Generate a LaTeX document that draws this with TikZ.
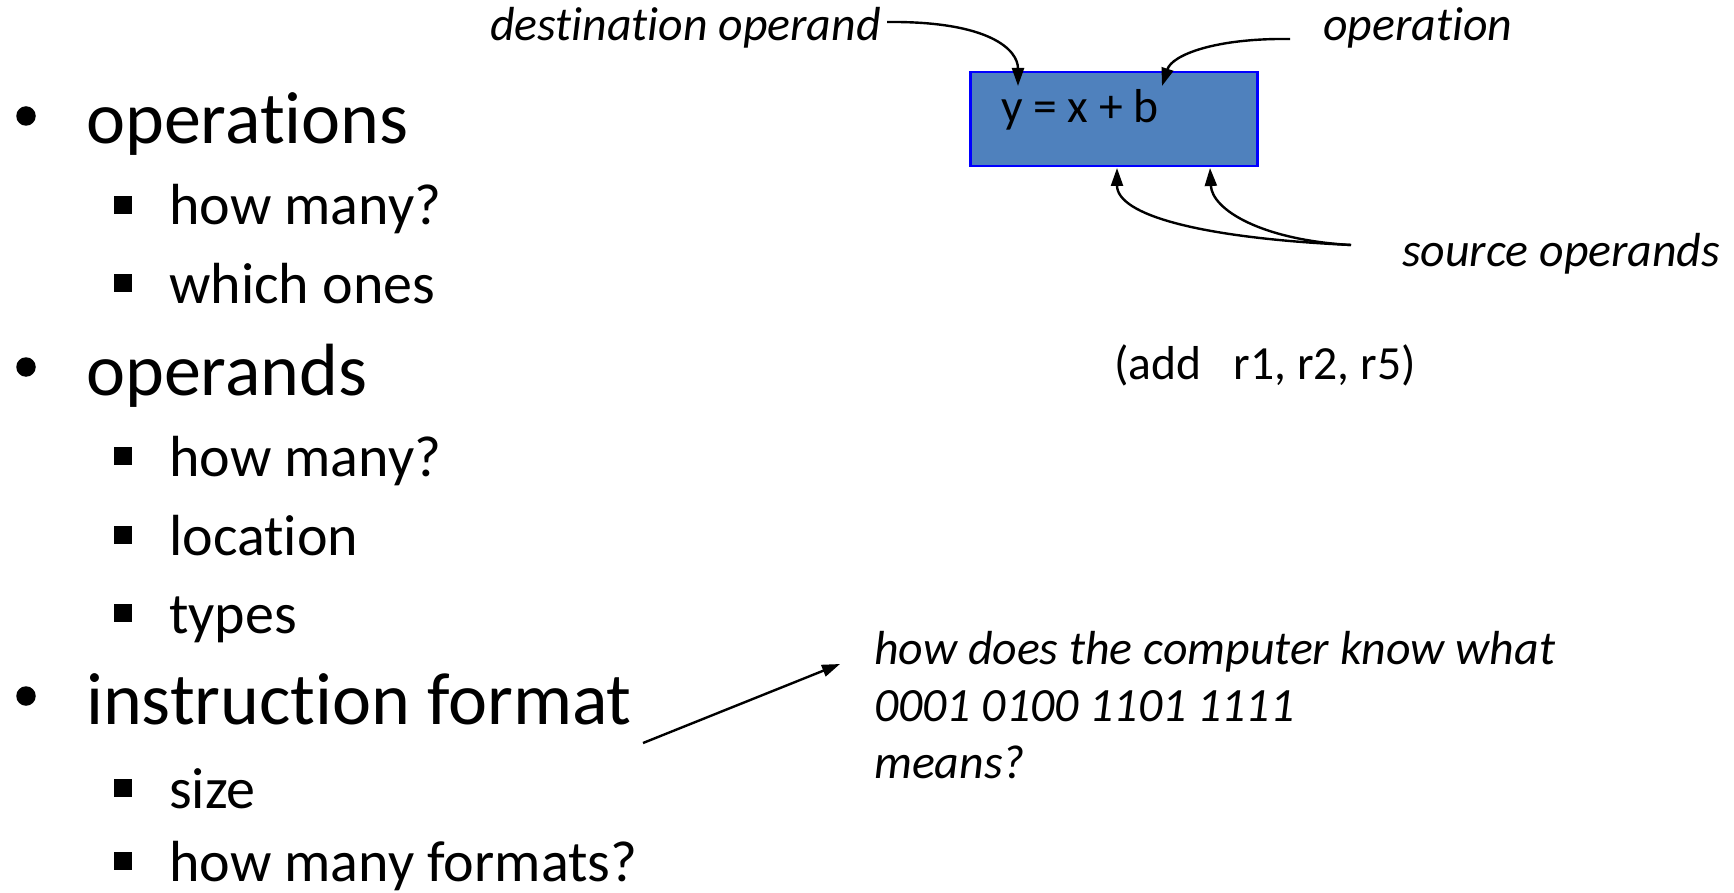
\documentclass[tikz,border=0pt]{standalone}
\usepackage{fontspec}
\setmainfont{Carlito}[Ligatures=NoCommon]
\usetikzlibrary{arrows.meta,calc}
\definecolor{boxfill}{HTML}{4F81BD}
\begin{document}
\begin{tikzpicture}[x=1pt,y=-1pt,
  main/.style={anchor=base west,inner sep=0pt,font=\fontsize{74}{88}\selectfont},
  sub/.style={anchor=base west,inner sep=0pt,font=\fontsize{58}{70}\selectfont},
  ann/.style={anchor=base west,inner sep=0pt,font=\fontsize{47.6}{57}\selectfont},
  annit/.style={anchor=base west,inner sep=0pt,font=\fontsize{47.8}{57}\selectfont\itshape},
  bul/.style={circle,fill=black,inner sep=0pt,minimum size=19.5pt},
  sq/.style={rectangle,fill=black,inner sep=0pt,minimum size=17.5pt},
  arr/.style={-{Triangle[length=18pt,width=12pt]},line width=2.4pt},
  instr/.style={draw=blue,line width=2.5pt,fill=boxfill,minimum width=287pt,minimum height=94pt,inner sep=0pt}]
\fill[white] (0,0) rectangle (1734,893);
\useasboundingbox (0,0) rectangle (1734,893);

% left list
\node[bul] (b1) at (26,116) {};
\node[main] (t1) at (86,144) {operations};
\node[sq] (s11) at (123,205) {};
\node[sub] (t11) at (169,225) {how many?};
\node[sq] (s12) at (123,283) {};
\node[sub] (t12) at (169,303) {which ones};
\node[bul] (b2) at (26,367) {};
\node[main] (t2) at (86,395) {operands};
\node[sq] (s21) at (123,456) {};
\node[sub] (t21) at (169,476) {how many?};
\node[sq] (s22) at (123,535) {};
\node[sub] (t22) at (169,555) {location};
\node[sq] (s23) at (123,613) {};
\node[sub] (t23) at (169,633) {types};
\node[bul] (b3) at (26,696) {};
\node[main] (t3) at (86,724) {instruction format};
\node[sq] (s31) at (123,788) {};
\node[sub] (t31) at (169,808) {size};
\node[sq] (s32) at (123,861) {};
\node[sub] (t32) at (169,881) {how many formats?};

% instruction box
\node[instr] (box) at (1114,119) {};
\node[ann] (eq) at (1001,123) {y = x + b};
\node[annit,anchor=base east] (dst) at (881,41) {destination operand};
\node[annit] (op) at (1323,41) {operation};
\node[annit] (src) at (1402,266) {source operands};
\node[ann] (add) at (1114,379) {(add\ \ \ r1, r2, r5)};

% question
\node[annit] (q1) at (874,664) {how does the computer know what};
\node[annit] (q2) at (874,721) {0001 0100 1101 1111};
\node[annit] (q3) at (874,778) {means?};

% arrow end points
\coordinate (dtip) at (1018,86);
\coordinate (otip) at (1162,86);
\coordinate (s1tip) at (1117,168);
\coordinate (s2tip) at (1210,168);
\coordinate (dstart) at ($(dst.base east)+(6,-19)$);
\coordinate (ostart) at ($(op.base west)+(-33,-2)$);
\coordinate (sstart) at ($(src.base west)+(-51,-21)$);
\coordinate (istart) at ($(t3.base east)+(11,19)$);
\coordinate (itip) at ($(q1.base west)+(-34,0)$);

\draw[arr] (dstart) .. controls (990,21) and (1018,50) .. (dtip);
\draw[arr] (ostart) .. controls (1215,38) and (1172,55) .. (otip);
\draw[arr] (sstart) .. controls (1200,238) and (1117,215) .. (s1tip);
\draw[arr] (sstart) .. controls (1262,240) and (1212,210) .. (s2tip);
\draw[arr] (istart) -- (itip);
\end{tikzpicture}
\end{document}
